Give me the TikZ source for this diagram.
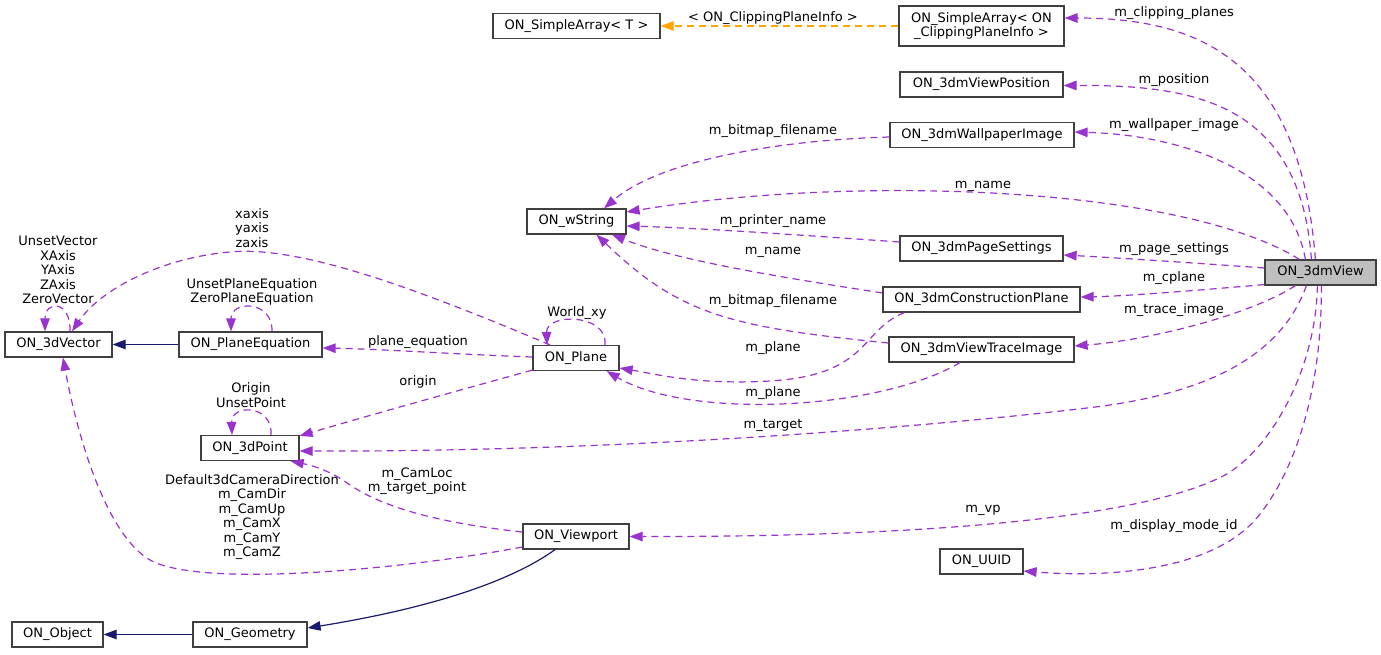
\documentclass[tikz,border=0pt]{standalone}
\usepackage{fontspec}
\setmainfont{DejaVu Sans}
\usetikzlibrary{arrows.meta}
\definecolor{assocc}{HTML}{9A32CD}
\definecolor{inhc}{HTML}{191970}
\definecolor{tmplc}{HTML}{FFA500}
\definecolor{bord}{HTML}{404040}
\definecolor{selc}{HTML}{BFBFBF}
\begin{document}
\begin{tikzpicture}[x=1pt,y=-1pt,
  every node/.style={font=\fontsize{13}{14.5}\selectfont},
  cls/.style={draw=bord, fill=white, line width=1.2pt, minimum height=25pt, inner sep=0pt, align=center},
  lbl/.style={inner sep=0pt, align=center},
  use/.style={color=assocc, line width=1.2pt, dash pattern=on 7pt off 5pt, -{Triangle[length=13pt,width=9.5pt]}},
  inh/.style={color=inhc, line width=1.2pt, -{Triangle[length=13pt,width=9.5pt]}},
  tpl/.style={color=tmplc, line width=1.2pt, dash pattern=on 7pt off 5pt, -{Triangle[length=13pt,width=9.5pt]}},
]
\fill[white] (0,0) rectangle (1381,654);
\useasboundingbox (0,0) rectangle (1381,654);

% classes
\node[cls, fill=selc, minimum width=111pt] (view) at (1320.5,272.5) {ON\_3dmView};
\node[cls, minimum width=167pt] (sat) at (576.5,26) {ON\_SimpleArray< T >};
\node[cls, minimum width=165pt, minimum height=40pt] (sac) at (981.5,26) {ON\_SimpleArray< ON\\\_ClippingPlaneInfo >};
\node[cls, minimum width=163pt] (vpos) at (981.5,84.5) {ON\_3dmViewPosition};
\node[cls, minimum width=184pt] (wall) at (982,135) {ON\_3dmWallpaperImage};
\node[cls, minimum width=99pt] (wstr) at (576.5,221.5) {ON\_wString};
\node[cls, minimum width=163pt] (page) at (981.5,248.5) {ON\_3dmPageSettings};
\node[cls, minimum width=197pt] (cpl) at (981.5,299.5) {ON\_3dmConstructionPlane};
\node[cls, minimum width=185pt] (trace) at (981.5,349.5) {ON\_3dmViewTraceImage};
\node[cls, minimum width=107pt] (vec) at (58.5,344.5) {ON\_3dVector};
\node[cls, minimum width=143pt] (peq) at (250.5,344.5) {ON\_PlaneEquation};
\node[cls, minimum width=86pt] (plane) at (576,358) {ON\_Plane};
\node[cls, minimum width=98pt] (pt) at (250,448) {ON\_3dPoint};
\node[cls, minimum width=106pt] (vp) at (576,536.5) {ON\_Viewport};
\node[cls, minimum width=83pt] (uuid) at (981.5,561.5) {ON\_UUID};
\node[cls, minimum width=91pt] (obj) at (57.5,634.5) {ON\_Object};
\node[cls, minimum width=114pt] (geo) at (250,634.5) {ON\_Geometry};

% edges from ON_3dmView
\draw[use] ([xshift=51pt]view.north west) .. controls (1300,60) and (1200,18) .. ([yshift=8pt]sac.east);
\draw[use] ([xshift=47pt]view.north west) .. controls (1300,100) and (1190,85) .. ([yshift=-1pt]vpos.east);
\draw[use] ([xshift=41pt]view.north west) .. controls (1290,170) and (1180,135) .. ([yshift=3pt]wall.east);
\draw[use] ([xshift=35pt]view.north west) .. controls (1180,185) and (850,175) .. ([yshift=9.5pt]wstr.east);
\draw[use] ([yshift=4.5pt]view.west) .. controls (1180,262) and (1120,258) .. ([yshift=-6.5pt]page.east);
\draw[use] ([yshift=1pt]view.south west) .. controls (1200,290) and (1130,296) .. ([yshift=2.5pt]cpl.east);
\draw[use] ([xshift=31pt]view.south west) .. controls (1250,315) and (1150,340) .. ([yshift=3.5pt]trace.east);
\draw[use] ([xshift=42pt]view.south west) .. controls (1280,360) and (1200,395) .. (1087,408) .. controls (900,430) and (600,452) .. ([yshift=-3pt]pt.east);
\draw[use] ([xshift=53pt]view.south west) .. controls (1316,370) and (1270,450) .. (1225,475) .. controls (1150,515) and (950,537) .. (vp.east);
\draw[use] ([xshift=57pt]view.south west) .. controls (1322,400) and (1290,480) .. (1255,520) .. controls (1210,570) and (1110,578) .. ([yshift=-9.5pt]uuid.east);

% edges to ON_wString
\draw[use] ([yshift=-2pt]wall.west) .. controls (780,140) and (660,160) .. ([xshift=27.5pt]wstr.north);
\draw[use] ([yshift=6.5pt]page.west) .. controls (800,235) and (700,228) .. ([yshift=-4.5pt]wstr.east);
\draw[use] ([yshift=6.5pt]cpl.west) .. controls (800,280) and (680,262) .. ([xshift=35.5pt]wstr.south);
\draw[use] ([yshift=6.5pt]trace.west) .. controls (730,327) and (680,315) .. ([xshift=20pt]wstr.south);

% edges to ON_Plane
\draw[use] ([xshift=22pt]cpl.south west) .. controls (860,330) and (870,375) .. (770,381) .. controls (700,385) and (660,375) .. ([yshift=-10pt]plane.east);
\draw[use] ([xshift=-21.5pt]trace.south) .. controls (880,410) and (690,420) .. ([xshift=-13pt]plane.south east);

% edges from ON_Plane
\draw[use] ([xshift=-26pt]plane.north) .. controls (420,290) and (300,245) .. (230,252) .. controls (160,258) and (100,290) .. ([xshift=13.5pt]vec.north);
\draw[use] ([yshift=1pt]plane.west) .. controls (450,354) and (380,349) .. ([yshift=-3.5pt]peq.east);
\draw[use] ([yshift=1pt]plane.south west) .. controls (460,390) and (360,418) .. ([yshift=-1pt]pt.north east);

% self loops
\draw[use] ([xshift=11.5pt]vec.north) .. controls (71,300) and (45,300) .. ([xshift=-13.5pt]vec.north);
\draw[use] ([xshift=21.5pt]peq.north) .. controls (273,300) and (231,300) .. ([xshift=-19.5pt]peq.north);
\draw[use] ([xshift=29pt]plane.north) .. controls (608,313) and (546,313) .. ([xshift=-29pt]plane.north);
\draw[use] ([xshift=21pt]pt.north) .. controls (273,404) and (231,404) .. ([xshift=-18pt]pt.north);

% edges from ON_Viewport
\draw[use] ([yshift=4.5pt]vp.west) .. controls (430,522) and (380,505) .. (350,485) .. controls (330,470) and (310,465) .. ([xshift=-9pt]pt.south east);
\draw[use] ([yshift=-10.5pt]vp.west) .. controls (400,570) and (200,588) .. (150,560) .. controls (110,537) and (80,450) .. ([xshift=4.5pt]vec.south);

% inheritance and template
\draw[inh] ([xshift=-21pt]vp.south) .. controls (520,575) and (450,605) .. ([yshift=6.5pt]geo.east);
\draw[inh] (geo.west) -- (obj.east);
\draw[inh] (peq.west) -- (vec.east);
\draw[tpl] (sac.west) -- (sat.east);

% labels
\node[lbl] (lclip) at (1174,13) {m\_clipping\_planes};
\node[lbl] (lpos) at (1174,80) {m\_position};
\node[lbl] (lwall) at (1174,125) {m\_wallpaper\_image};
\node[lbl] (lnamea) at (983,186) {m\_name};
\node[lbl] (lpage) at (1174,249) {m\_page\_settings};
\node[lbl] (lcpl) at (1174,278) {m\_cplane};
\node[lbl] (ltrace) at (1174,310) {m\_trace\_image};
\node[lbl] (lvp) at (983,510) {m\_vp};
\node[lbl] (ldisp) at (1174,526) {m\_display\_mode\_id};
\node[lbl] (ltmpl) at (773,18) {< ON\_ClippingPlaneInfo >};
\node[lbl] (lbmpa) at (773,131) {m\_bitmap\_filename};
\node[lbl] (lprn) at (773,221) {m\_printer\_name};
\node[lbl] (lnameb) at (773,252) {m\_name};
\node[lbl] (lbmpb) at (773,301) {m\_bitmap\_filename};
\node[lbl] (lpla) at (773,348) {m\_plane};
\node[lbl] (lplb) at (773,393) {m\_plane};
\node[lbl] (ltarget) at (773,425) {m\_target};
\node[lbl] (laxes) at (252,228) {xaxis\\yaxis\\zaxis};
\node[lbl] (lvecc) at (58,270) {UnsetVector\\XAxis\\YAxis\\ZAxis\\ZeroVector};
\node[lbl] (lpeqc) at (252,292) {UnsetPlaneEquation\\ZeroPlaneEquation};
\node[lbl] (lwxy) at (577,313) {World\_xy};
\node[lbl] (lpeq) at (418,342) {plane\_equation};
\node[lbl] (lorig) at (418,382) {origin};
\node[lbl] (lptc) at (251,395) {Origin\\UnsetPoint};
\node[lbl] (lcamloc) at (417,481) {m\_CamLoc\\m\_target\_point};
\node[lbl] (lcam) at (252,517) {Default3dCameraDirection\\m\_CamDir\\m\_CamUp\\m\_CamX\\m\_CamY\\m\_CamZ};
\end{tikzpicture}
\end{document}
